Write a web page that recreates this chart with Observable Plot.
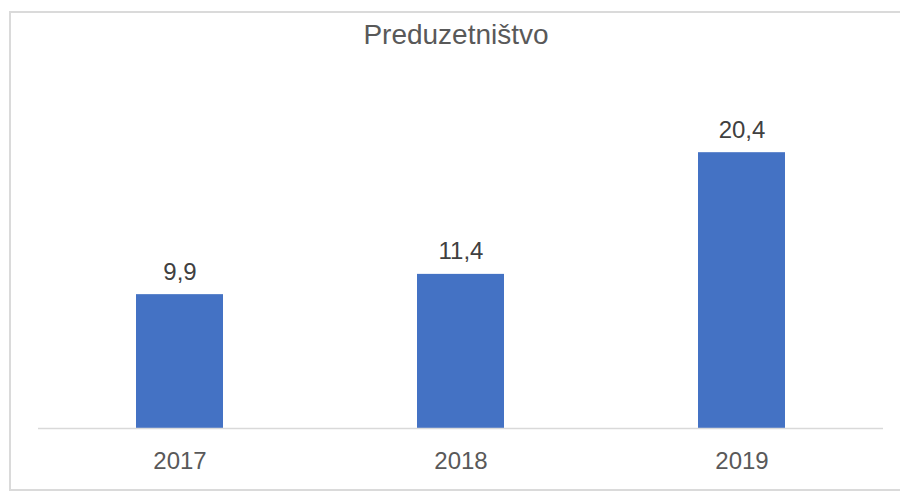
<!DOCTYPE html>
<html>
<head>
<meta charset="utf-8">
<script src="https://cdn.jsdelivr.net/npm/d3@7"></script>
<script src="https://cdn.jsdelivr.net/npm/@observablehq/plot@0.6"></script>
<style>
  html, body { margin: 0; padding: 0; background: #fff; overflow: hidden; }
  #wrap { position: relative; width: 900px; height: 492px; overflow: hidden; }
  #frame { position: absolute; left: 9px; top: 11px; width: 940px; height: 476px; border: 2px solid #dadada; box-sizing: content-box; }
  #chart { position: absolute; left: 0; top: 0; }
</style>
</head>
<body>
<div id="wrap">
  <div id="frame"></div>
  <div id="chart"></div>
</div>
<script>
const title = "Preduzetništvo";
const years = ["2017", "2018", "2019"];
const values = [9.9, 11.4, 20.4];

const data = years.map((year, i) => ({ year, value: values[i] }));
const fmt = v => v.toFixed(1).replace(".", ",");
const font = "Liberation Sans, Arial, sans-serif";

const chart = Plot.plot({
  width: 900,
  height: 492,
  marginLeft: 38,
  marginRight: 17,
  marginTop: 90,
  marginBottom: 64,
  style: { fontFamily: font, background: "transparent", overflow: "visible" },
  x: { domain: years, paddingInner: 0.69, paddingOuter: 0.345, label: null },
  y: { domain: [0, 25], axis: null },
  marks: [
    Plot.barY(data, { x: "year", y: "value", fill: "#4472C4" }),
    Plot.ruleY([0], { stroke: "#d9d9d9", strokeWidth: 1.5 }),
    Plot.text(data, {
      x: "year", y: "value", text: d => fmt(d.value),
      dy: -15, lineAnchor: "bottom", fontSize: 24, fill: "#404040"
    }),
    Plot.axisX({ tickSize: 0, tickPadding: 23, fontSize: 24, color: "#595959", label: null }),
    Plot.text([title], {
      frameAnchor: "top", dy: -47, dx: -5, lineAnchor: "bottom",
      fontSize: 28, fill: "#595959", text: d => d
    })
  ]
});
document.getElementById("chart").appendChild(chart);
</script>
</body>
</html>
